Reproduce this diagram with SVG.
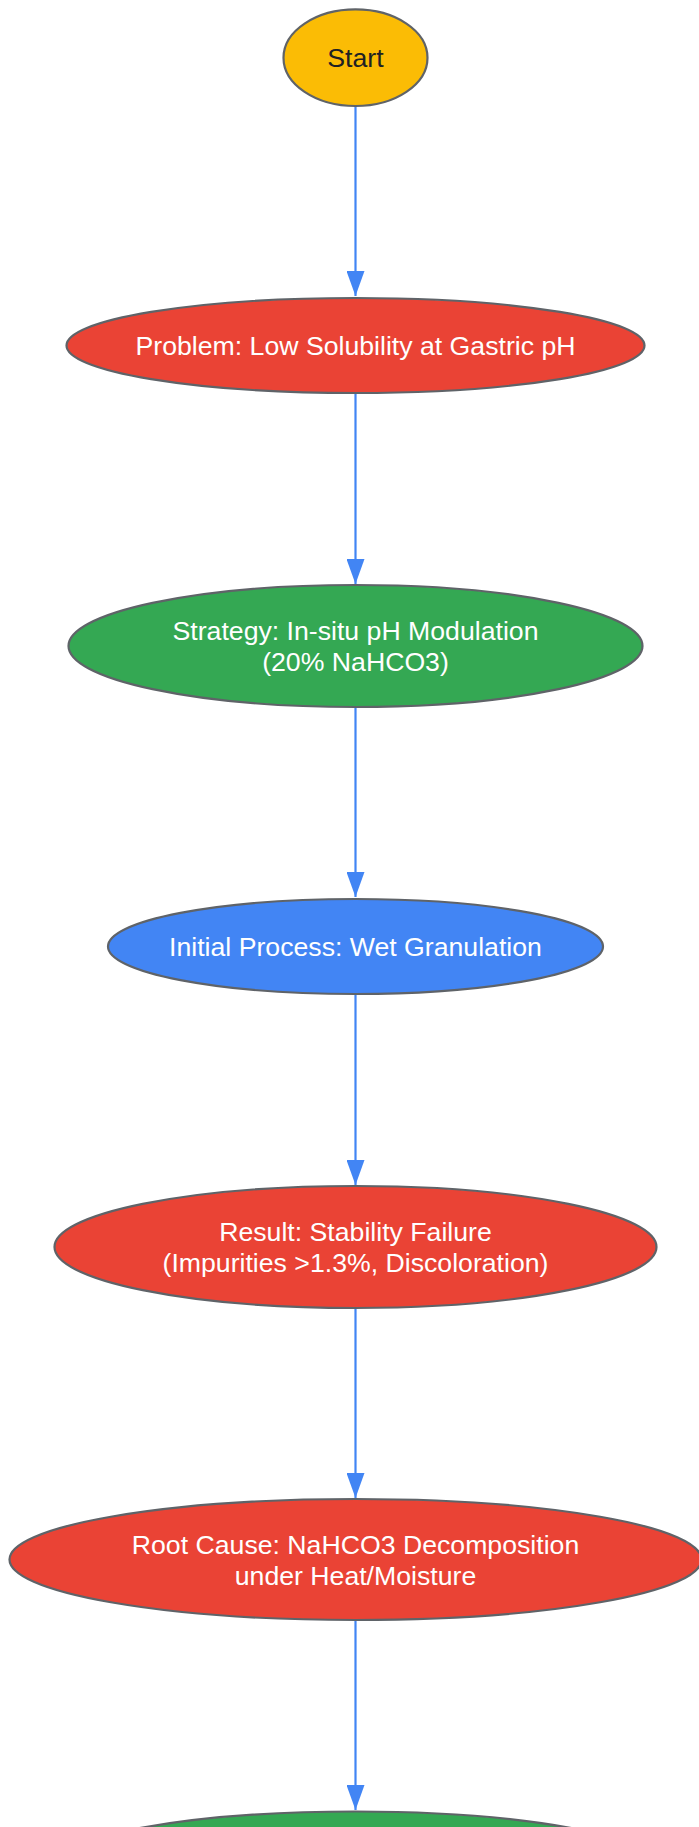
<svg xmlns="http://www.w3.org/2000/svg" width="699" height="1827" viewBox="0 0 699 1827">
<style>
.node ellipse{stroke:#5f6368;stroke-width:2.2}
.t{font-family:"Liberation Sans",Arial,sans-serif;font-size:26.67px;text-anchor:middle;fill:#ffffff}
.dark{fill:#202124}
.edge{stroke:#4285F4;stroke-width:2.2;fill:none}
</style>
<defs>
<marker id="arrow" markerWidth="25" markerHeight="18" refX="25" refY="9" orient="auto" markerUnits="userSpaceOnUse">
<path d="M0,0 L25,9 L0,18 Z" fill="#4285F4"/>
</marker>
</defs>
<rect width="699" height="1827" fill="#ffffff"/>
<g id="edges">
<path class="edge" d="M355.5,106 L355.5,296" marker-end="url(#arrow)"/>
<path class="edge" d="M355.5,393 L355.5,584" marker-end="url(#arrow)"/>
<path class="edge" d="M355.5,707 L355.5,897" marker-end="url(#arrow)"/>
<path class="edge" d="M355.5,994 L355.5,1185" marker-end="url(#arrow)"/>
<path class="edge" d="M355.5,1308 L355.5,1498" marker-end="url(#arrow)"/>
<path class="edge" d="M355.5,1620 L355.5,1810" marker-end="url(#arrow)"/>
</g>
<g id="start" class="node">
<ellipse cx="355.5" cy="57.7" rx="72" ry="48.3" fill="#FBBC05"/>
<text class="t dark" x="355.5" y="67">Start</text>
</g>
<g id="problem" class="node">
<ellipse cx="355.5" cy="345.5" rx="289" ry="47.5" fill="#EA4335"/>
<text class="t" x="355.5" y="355">Problem: Low Solubility at Gastric pH</text>
</g>
<g id="strategy" class="node">
<ellipse cx="355.5" cy="646" rx="287" ry="61" fill="#34A853"/>
<text class="t" x="355.5" y="640">Strategy: In-situ pH Modulation</text>
<text class="t" x="355.5" y="671">(20% NaHCO3)</text>
</g>
<g id="initial" class="node">
<ellipse cx="355.5" cy="946.5" rx="247.5" ry="47.5" fill="#4285F4"/>
<text class="t" x="355.5" y="956">Initial Process: Wet Granulation</text>
</g>
<g id="result" class="node">
<ellipse cx="355.5" cy="1247" rx="301" ry="61" fill="#EA4335"/>
<text class="t" x="355.5" y="1241">Result: Stability Failure</text>
<text class="t" x="355.5" y="1272">(Impurities &gt;1.3%, Discoloration)</text>
</g>
<g id="rootcause" class="node">
<ellipse cx="355.5" cy="1559.5" rx="346" ry="60.5" fill="#EA4335"/>
<text class="t" x="355.5" y="1553.5">Root Cause: NaHCO3 Decomposition</text>
<text class="t" x="355.5" y="1585">under Heat/Moisture</text>
</g>
<g id="next" class="node">
<ellipse cx="355.5" cy="1872.5" rx="315" ry="61" fill="#34A853"/>
</g>
</svg>
